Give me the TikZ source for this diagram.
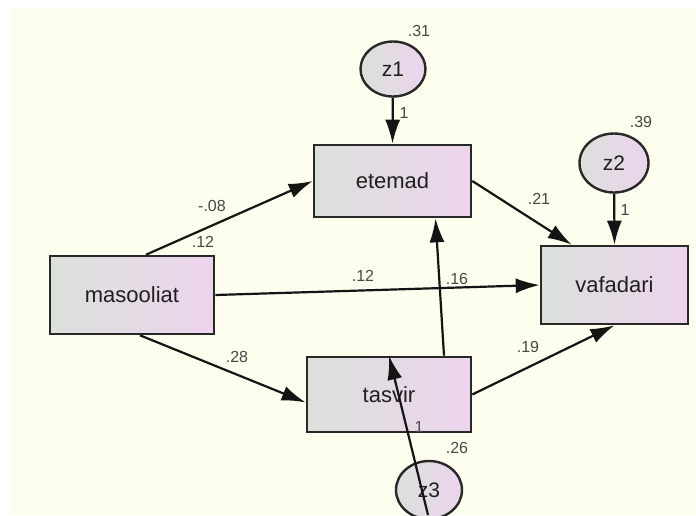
\documentclass[tikz,border=0pt]{standalone}
\usepackage{fontspec}
\setmainfont{Liberation Sans}
\usepackage{xcolor}
\usetikzlibrary{arrows.meta,calc,positioning,shapes.geometric}
\definecolor{cream}{RGB}{254,254,238}
\definecolor{boxleft}{RGB}{219,224,219}
\definecolor{boxright}{RGB}{237,212,237}
\definecolor{dgray}{RGB}{40,40,40}

\begin{document}
\begin{tikzpicture}[x=1pt,y=-1pt,
  var/.style={draw=dgray,line width=2.6pt,left color=boxleft,right color=boxright,font=\fontsize{22}{24}\selectfont,text=black!88,inner sep=0pt},
  err/.style={ellipse,draw=dgray,line width=2.4pt,left color=boxleft,right color=boxright,font=\fontsize{21}{23}\selectfont,text=black!88,inner sep=0pt},
  effect/.style={line width=2.2pt,draw=black!92,-{Latex[length=24pt,width=15pt]}},
  coef/.style={font=\fontsize{16}{18}\selectfont,text=black!72,inner sep=0pt}]

\useasboundingbox (0,0) rectangle (696,515);
\fill[cream] (10,8) rectangle (696,515);

% observed variables
\node[var,minimum width=164pt,minimum height=78pt] (mas) at (132,295) {masooliat};
\node[var,minimum width=157pt,minimum height=72pt] (ete) at (392.5,181) {etemad};
\node[var,minimum width=147pt,minimum height=78pt] (vaf) at (614.5,285) {vafadari};
\node[var,minimum width=164pt,minimum height=75pt] (tas) at (389,394.5) {tasvir};

% residuals
\node[err,minimum width=65pt,minimum height=55pt] (z1) at (393,69) {z1};
\node[err,minimum width=69pt,minimum height=59pt] (z2) at (614,163) {z2};
\node[err,minimum width=66pt,minimum height=58pt] (z3) at (429,490) {z3};

% paths
\draw[effect] ($(mas.north)+(14,0)$) -- (ete.west);
\draw[effect] (mas.east) -- (vaf.west);
\draw[effect] ($(mas.south)+(8,0)$) -- ($(tas.west)+(0,8)$);
\draw[effect] (ete.east) -- ($(vaf.north west)+(32,0)$);
\draw[effect] (tas.east) -- (vaf.south);
\draw[effect] ($(tas.north)+(55,0)$) -- ($(ete.south)+(43,0)$);
\draw[effect] (z1) -- (ete.north);
\draw[effect] (z2) -- (vaf.north);

\coordinate (z3end) at (428,515);
\draw[effect] (z3end) -- (tas.north);

% estimates
\def\estimates{419/31/{.31}, 404/113/{1}, 641/122/{.39}, 625/210/{1},
  212/206/{-.08}, 203/242/{.12}, 363/276/{.12}, 457/279/{.16},
  539/199/{.21}, 237/357/{.28}, 528/347/{.19}, 419/427/{1}, 457/448/{.26}}
\foreach \ex/\ey/\val [count=\ni] in \estimates
  \node[coef] (est\ni) at (\ex,\ey) {\val};

\end{tikzpicture}
\end{document}
